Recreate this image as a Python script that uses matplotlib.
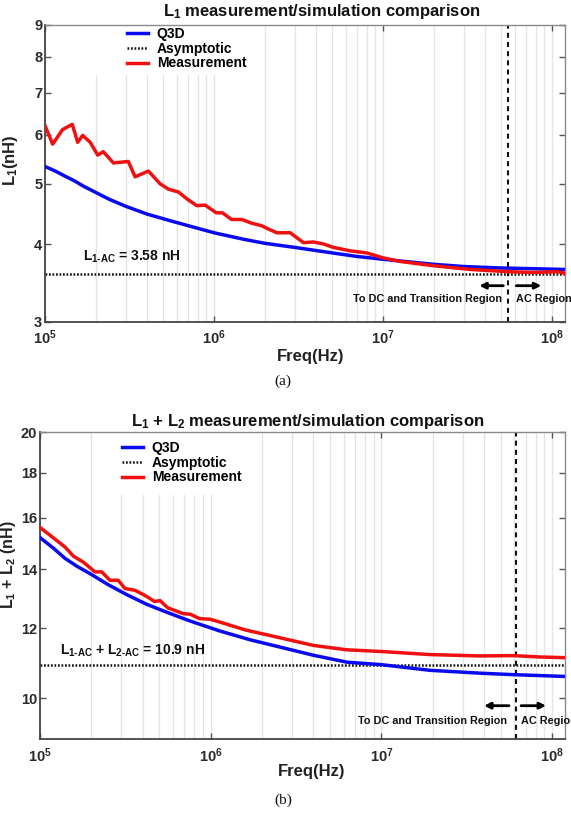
import matplotlib
matplotlib.use("Agg")
import matplotlib.pyplot as plt
from matplotlib.patches import Rectangle, FancyArrowPatch
from matplotlib.transforms import ScaledTranslation, blended_transform_factory, IdentityTransform
from matplotlib.ticker import FixedLocator, FixedFormatter, NullLocator, NullFormatter, LogLocator

plt.rcParams['font.family'] = ['Liberation Sans', 'DejaVu Sans']
plt.rcParams['font.weight'] = 'bold'
plt.rcParams['mathtext.fontset'] = 'custom'
plt.rcParams['mathtext.rm'] = 'Liberation Sans:bold'
plt.rcParams['mathtext.it'] = 'Liberation Sans:bold'
plt.rcParams['mathtext.bf'] = 'Liberation Sans:bold'
plt.rcParams['mathtext.sf'] = 'Liberation Sans:bold'

# ---------------- data: chart (a) ----------------
a_q3d_f = [1e5, 1.15e5, 1.3e5, 1.5e5, 1.7e5, 2.0e5, 2.4e5, 3e5, 4e5, 5.5e5, 7.5e5, 1e6,
           1.5e6, 2e6, 3e6, 5e6, 7e6, 1e7, 2e7, 3e7, 5e7, 8e7, 1.19e8]
a_q3d_L = [5.33, 5.24, 5.15, 5.05, 4.95, 4.84, 4.72, 4.60, 4.47, 4.36, 4.26, 4.17,
           4.07, 4.01, 3.95, 3.87, 3.82, 3.78, 3.71, 3.68, 3.66, 3.65, 3.64]
a_meas_f = [1.0e5, 1.11e5, 1.27e5, 1.45e5, 1.56e5, 1.67e5, 1.85e5, 2.05e5, 2.21e5, 2.54e5,
            3.11e5, 3.41e5, 4.09e5, 4.79e5, 5.37e5, 6.15e5, 6.89e5, 7.9e5, 8.85e5, 1.03e6,
            1.12e6, 1.27e6, 1.46e6, 1.67e6, 1.91e6, 2.05e6, 2.35e6, 2.82e6, 3.38e6, 3.87e6,
            4.44e6, 5.08e6, 6.38e6, 8.0e6, 1.0e7, 1.26e7, 2.0e7, 3.3e7, 5.5e7, 7.8e7,
            1.07e8, 1.19e8]
a_meas_L = [6.20, 5.79, 6.11, 6.23, 5.83, 5.98, 5.83, 5.56, 5.63, 5.40,
            5.43, 5.13, 5.24, 5.00, 4.90, 4.85, 4.73, 4.61, 4.62, 4.49,
            4.49, 4.38, 4.38, 4.32, 4.28, 4.24, 4.17, 4.17, 4.02, 4.03,
            4.00, 3.95, 3.90, 3.87, 3.80, 3.75, 3.69, 3.64, 3.61, 3.60,
            3.61, 3.59]
a_asym = 3.58
a_split = 5.5e7

# ---------------- data: chart (b) ----------------
b_q3d_f = [1e5, 1.2e5, 1.4e5, 1.65e5, 1.96e5, 2.5e5, 3.2e5, 4.2e5, 5.5e5, 7.5e5, 1.13e6,
           1.7e6, 2.55e6, 4e6, 6.3e6, 1e7, 1.93e7, 3.8e7, 5.9e7, 1.19e8]
b_q3d_L = [15.2, 14.78, 14.4, 14.1, 13.84, 13.45, 13.11, 12.78, 12.52, 12.24, 11.92,
           11.65, 11.43, 11.19, 10.99, 10.92, 10.76, 10.68, 10.64, 10.59]
b_meas_f = [1.0e5, 1.145e5, 1.4e5, 1.57e5, 1.79e5, 2.1e5, 2.3e5, 2.57e5, 2.87e5, 3.15e5,
            3.6e5, 4.1e5, 4.7e5, 5.05e5, 5.6e5, 6.9e5, 7.6e5, 8.6e5, 9.9e5, 1.13e6,
            1.6e6, 2.55e6, 4.0e6, 6.26e6, 1.0e7, 1.93e7, 3.78e7, 5.9e7, 8.5e7, 1.19e8]
b_meas_L = [15.6, 15.29, 14.83, 14.48, 14.26, 13.9, 13.9, 13.6, 13.6, 13.31,
            13.25, 13.08, 12.87, 12.9, 12.66, 12.47, 12.45, 12.31, 12.29, 12.2,
            11.95, 11.71, 11.48, 11.35, 11.30, 11.21, 11.17, 11.18, 11.14, 11.12]
b_asym = 10.9
b_split = 6.15e7

legend_labels = ['Q3D', 'Asymptotic', 'Measurement']
a_yticks = [3, 4, 5, 6, 7, 8, 9]
b_yticks = [10, 12, 14, 16, 18, 20]

W, H = 571, 816
fig = plt.figure(figsize=(W / 100, H / 100), dpi=100)


def px_axes(l, t, r, b):
    return fig.add_axes([l / W, (H - b) / H, (r - l) / W, (b - t) / H])


ax1 = px_axes(45, 25, 565, 321.7)
ax2 = px_axes(40, 432, 565, 739)

BLUE = '#0a0aee'
RED = '#f01010'
TICKC = '#2a2a2a'


def style(ax, ylim, yticks, xmax):
    ax.set_xscale('log')
    ax.set_yscale('log')
    ax.set_xlim(1e5, xmax)
    ax.set_ylim(*ylim)
    ax.yaxis.set_major_locator(FixedLocator(yticks))
    ax.yaxis.set_major_formatter(FixedFormatter([str(v) for v in yticks]))
    ax.yaxis.set_minor_locator(NullLocator())
    ax.yaxis.set_minor_formatter(NullFormatter())
    ax.xaxis.set_major_locator(LogLocator(base=10, numticks=10))
    ax.xaxis.set_minor_locator(LogLocator(base=10, subs=range(2, 10), numticks=20))
    ax.xaxis.set_minor_formatter(NullFormatter())
    ax.set_axisbelow(True)
    ax.grid(which='both', axis='x', color='#e4e4e4', lw=0.9)
    ax.tick_params(which='major', direction='in', length=4, width=1, top=True, right=True,
                   colors='#555555', labelcolor=TICKC, labelsize=10.5)
    ax.tick_params(which='minor', length=0, top=True, right=True)
    ax.tick_params(axis='y', pad=2)
    ax.tick_params(axis='x', pad=5)
    for s in ['left', 'bottom']:
        ax.spines[s].set_color('#444444')
        ax.spines[s].set_linewidth(1.3)
    for s in ['top', 'right']:
        ax.spines[s].set_color('#8a8a8a')
        ax.spines[s].set_linewidth(1.0)
    for lab in ax.get_xticklabels() + ax.get_yticklabels():
        lab.set_fontweight('bold')


def draw(ax, qf, qL, mf, mL, asym, split, leg_xy, rect):
    ax.add_patch(Rectangle(rect[0], rect[1], rect[2], transform=ax.transAxes,
                           facecolor='white', edgecolor='none', zorder=0.8))
    ax.plot(qf, qL, color=BLUE, lw=2.5, label=legend_labels[0], zorder=3, solid_joinstyle='round')
    ax.axhline(asym, color='#111111', lw=1.8, ls=(0, (0.7, 0.7)), label=legend_labels[1], zorder=2)
    ax.plot(mf, mL, color=RED, lw=2.5, label=legend_labels[2], zorder=3.2, solid_joinstyle='round')
    ax.axvline(split, color='#111111', lw=1.5, ls=(0, (2.4, 2.0)), zorder=2.5)
    leg = ax.legend(loc='upper left', bbox_to_anchor=leg_xy, frameon=False, fontsize=10,
                    handlelength=1.5, handletextpad=0.65, labelspacing=0.05,
                    borderpad=0.0, borderaxespad=0.0)
    for t in leg.get_texts():
        t.set_fontweight('bold')


style(ax1, (3, 9), a_yticks, 1.19e8)
style(ax2, (9, 20), b_yticks, 1.19e8)

draw(ax1, a_q3d_f, a_q3d_L, a_meas_f, a_meas_L, a_asym, a_split,
     ((127 - 45) / 520, (321.7 - 27) / 296.7),
     ((0.085, (321.7 - 75) / 296.7), 0.31, 50 / 296.7))
draw(ax2, b_q3d_f, b_q3d_L, b_meas_f, b_meas_L, b_asym, b_split,
     ((122 - 40) / 525, (739 - 441) / 307),
     ((0.105, (739 - 495) / 307), 0.305, 63 / 307))

# titles
ax1.text((322 - 45) / 520, (321.7 - 16) / 296.7, r'$L_1$ measurement/simulation comparison',
         transform=ax1.transAxes, ha='center', va='baseline', fontsize=12, fontweight='bold',
         color='#111111')
ax2.text((308 - 40) / 525, (739 - 426) / 307, r'$L_1$ + $L_2$ measurement/simulation comparison',
         transform=ax2.transAxes, ha='center', va='baseline', fontsize=12, fontweight='bold',
         color='#111111')

# axis labels
ax1.set_xlabel('Freq(Hz)', fontsize=12, fontweight='bold', color='#222222')
ax1.xaxis.set_label_coords((311 - 45) / 520, -(349 - 321.7) / 296.7)
ax2.set_xlabel('Freq(Hz)', fontsize=12, fontweight='bold', color='#222222')
ax2.xaxis.set_label_coords((312 - 40) / 525, -(764 - 739) / 307)
ax1.set_ylabel(r'$L_1$(nH)', fontsize=12, fontweight='bold', color='#222222')
ax1.yaxis.set_label_coords(-(45 - 20) / 520, (321.7 - 160) / 296.7)
ax2.set_ylabel(r'$L_1$ + $L_2$ (nH)', fontsize=11.5, fontweight='bold', color='#222222')
ax2.yaxis.set_label_coords(-(40 - 18) / 525, (739 - 565) / 307)

# asymptote annotations
ax1.text((83 - 45) / 520, (321.7 - 260.7) / 296.7, r'$L_{1\text{-}AC}$ = 3.58 nH',
         transform=ax1.transAxes, ha='left', va='baseline', fontsize=10, fontweight='bold',
         color='#111111')
ax2.text((60 - 40) / 525, (739 - 655) / 307,
         r'$L_{1\text{-}AC}$ + $L_{2\text{-}AC}$ = 10.9 nH',
         transform=ax2.transAxes, ha='left', va='baseline', fontsize=10, fontweight='bold',
         color='#111111')

# region texts and arrows placed relative to the split line (pixel offsets)
for ax, split, ytxt, yarr, tl, trr, al, ar in (
        (ax1, a_split, (321.7 - 301.7) / 296.7, (321.7 - 285.7) / 296.7, -6, 8, (-5, -29), (8, 33)),
        (ax2, b_split, (739 - 724) / 307, (739 - 705.7) / 307, -9, 5, (-7, -32), (5, 30))):
    trn = ('data', 'axes fraction')
    ax.annotate('To DC and Transition Region', xy=(split, ytxt), xycoords=trn,
                xytext=(tl, 0), textcoords='offset pixels', ha='right', va='baseline',
                fontsize=7.8, fontweight='bold', color='#111111', annotation_clip=False)
    ax.annotate('AC Region', xy=(split, ytxt), xycoords=trn,
                xytext=(trr, 0), textcoords='offset pixels', ha='left', va='baseline',
                fontsize=7.8, fontweight='bold', color='#111111', annotation_clip=False)
    base = blended_transform_factory(ax.transData, ax.transAxes)
    for tail, head in (al, ar):
        t_tail = base + ScaledTranslation(tail / 100, 0, fig.dpi_scale_trans)
        t_head = base + ScaledTranslation(head / 100, 0, fig.dpi_scale_trans)
        p0 = t_tail.transform((split, yarr))
        p1 = t_head.transform((split, yarr))
        fa = FancyArrowPatch(p0, p1, arrowstyle='-|>', color='black',
                             lw=2.0, mutation_scale=9, shrinkA=0, shrinkB=0, zorder=4)
        fa.set_transform(IdentityTransform())
        fig.patches.append(fa)

fig.text(283 / W, 1 - 381 / H, '(a)', ha='center', va='center', fontsize=11,
         family='Liberation Serif', fontweight='normal', color='#111111')
fig.text(283 / W, 1 - 800 / H, '(b)', ha='center', va='center', fontsize=11,
         family='Liberation Serif', fontweight='normal', color='#111111')

fig.savefig('out.png', dpi=100)
